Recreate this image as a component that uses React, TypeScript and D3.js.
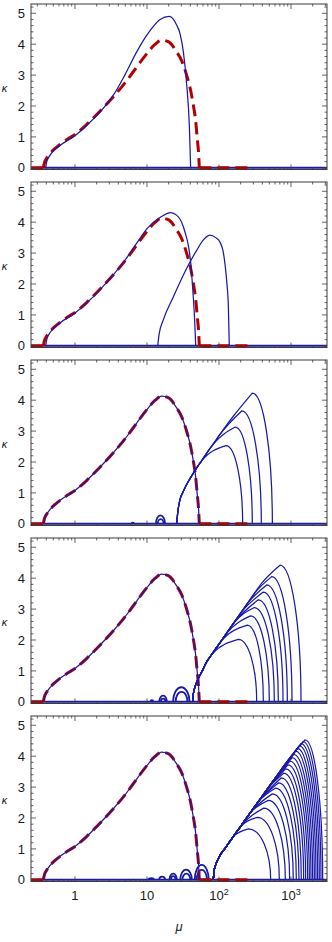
import * as d3 from "d3";

// ---- data: [mu, kappa] ----
const referenceCurve = [
  [0.363, 0], [0.378, 0.18], [0.404, 0.31], [0.449, 0.46], [0.52, 0.61], [0.619, 0.76],
  [0.78, 0.92], [1, 1.08], [1.45, 1.4], [2.22, 1.83], [3.41, 2.3], [4.92, 2.74],
  [7.2, 3.26], [10, 3.7], [12.9, 3.99], [16, 4.13], [19.8, 4.08], [25.8, 3.75],
  [30.5, 3.45], [35.5, 3.0], [40, 2.55], [44, 2.03], [47.5, 1.5], [49.9, 0.95],
  [51.8, 0.55], [53.3, 0],
];
const referenceZeroLeft = [[0.245, 0], [0.363, 0]];
const referenceZeroRight = [[53.3, 0], [255, 0]];

const blue1 = [
  [0.392, 0], [0.405, 0.2], [0.449, 0.4], [0.619, 0.72], [1, 1.04], [1.45, 1.37],
  [2.22, 1.8], [3.41, 2.35], [4.92, 3.0], [7.2, 3.75], [10, 4.3], [15.2, 4.8],
  [20.4, 4.9], [25.8, 4.62], [28.7, 4.35], [32, 3.75], [35.5, 2.73], [38.8, 1.33], [40.4, 0],
];

const blue2a = [
  [0.392, 0], [0.405, 0.2], [0.449, 0.42], [0.619, 0.74], [1, 1.06], [1.45, 1.38],
  [2.22, 1.81], [3.41, 2.3], [4.92, 2.76], [7.2, 3.32], [10, 3.79], [15.2, 4.15],
  [21.3, 4.31], [26, 4.22], [30.3, 4.0], [34, 3.65], [37.5, 3.25], [41, 2.55],
  [43, 1.9], [45.9, 0.83], [47.5, 0],
];
const blue2b = [
  [14.1, 0], [14.5, 0.25], [14.8, 0.4], [16.8, 0.83], [23.2, 1.58], [35.5, 2.5],
  [49, 3.09], [62, 3.45], [75, 3.58], [90, 3.5], [103, 3.36], [113, 3.1],
  [121, 2.66], [129, 2.0], [135, 1.26], [139, 0],
];

// branch families: shared rising envelope, then [peak mu, peak kappa, end mu]
const envelope3 = [
  [25.8, 0], [27, 0.45], [28.7, 0.78], [32, 1.05], [35.5, 1.27], [42, 1.56], [49, 1.81],
  [57, 2.03], [67.6, 2.29], [82, 2.56], [103, 2.89], [128, 3.2], [158, 3.48], [200, 3.8],
  [242, 4.03], [300, 4.3],
];
const peaks3 = [[125, 2.53, 213], [168, 3.13, 290], [207, 3.65, 387], [290, 4.23, 551]];

const envelope4 = [
  [43, 0], [44, 0.25], [46, 0.45], [51.8, 0.76], [60, 1.05], [67.6, 1.3], [80, 1.54],
  [92, 1.75], [103, 1.91], [125, 2.19], [158, 2.53], [200, 2.87], [250, 3.19], [300, 3.46],
  [380, 3.8], [460, 4.08], [560, 4.36], [650, 4.57],
];
const peaks4 = [
  [185.6, 2.02, 333.6], [247.5, 2.48, 412.9], [275.3, 2.78, 500], [309.6, 3.05, 586.8],
  [351.8, 3.3, 666.8], [412.9, 3.55, 774.3], [459.2, 3.78, 889.2], [538.9, 4.05, 1032.5],
  [703.5, 4.42, 1377],
];

const envelope5 = [
  [83.4, 0], [85, 0.25], [88, 0.42], [92, 0.55], [103, 0.79], [125, 1.06], [158, 1.4],
  [200, 1.73], [270, 2.16], [350, 2.52], [460, 2.91], [600, 3.28], [787, 3.67],
  [1000, 4.0], [1340, 4.42], [1700, 4.75],
];
const peaks5 = [
  [255.5, 1.65, 522], [340.7, 2.02, 689], [417.4, 2.32, 834], [484.4, 2.57, 958],
  [550.5, 2.78, 1076], [612.4, 2.97, 1186], [674.2, 3.14, 1291], [733.9, 3.3, 1390],
  [791, 3.45, 1499], [843.3, 3.59, 1598], [908.4, 3.72, 1703], [968.5, 3.84, 1798],
  [1032.5, 3.95, 1896], [1089, 4.06, 2000], [1161, 4.16, 2110], [1224, 4.25, 2225],
  [1305, 4.33, 2346], [1377, 4.41, 2473], [1468, 4.47, 2609], [1565, 4.53, 2754],
];

// small closed loops sitting on the axis: [mu start, mu end, height]
const loops3 = [[6.1, 6.6, 0.04], [13.3, 17.8, 0.27], [14.1, 17.0, 0.15]];
const loops4 = [
  [11.2, 12.2, 0.05], [14.8, 18.9, 0.2], [15.6, 18.0, 0.1], [23, 39, 0.47], [25, 36.5, 0.32],
];
const loops5 = [
  [10.5, 12.5, 0.05], [14.8, 17.8, 0.1], [20.5, 26, 0.2], [21.5, 25, 0.12],
  [29, 42, 0.33], [31, 40, 0.2], [46, 72, 0.48], [49, 68, 0.32],
];

const xTickLabels = [
  { v: 1, base: "1", sup: "" },
  { v: 10, base: "10", sup: "" },
  { v: 100, base: "10", sup: "2" },
  { v: 1000, base: "10", sup: "3" },
];
const yTickLabels = [0, 1, 2, 3, 4, 5];

const panels = [
  { blue: [blue1], env: null, peaks: [], loops: [] },
  { blue: [blue2a, blue2b], env: null, peaks: [], loops: [] },
  { blue: [referenceCurve], env: envelope3, peaks: peaks3, loops: loops3 },
  { blue: [referenceCurve], env: envelope4, peaks: peaks4, loops: loops4 },
  { blue: [referenceCurve], env: envelope5, peaks: peaks5, loops: loops5 },
];

const BLUE = "#1a1aa8";
const RED = "#b30000";
const FRAME = "#3c3c3c";
const FONT = "Liberation Sans, Arial, sans-serif";

const left = 31, right = 327;
const panelTop = [4, 182, 360, 538, 716];
const panelH = 165.5;

export default function App() {
  const x = d3.scaleLog().domain([0.245, 3162]).range([left, right]);
  const xt = x.ticks();

  return (
    <svg width={332} height={942} style={{ position: "absolute", left: 0, top: 0, background: "#fff" }}
      fontFamily={FONT}>
      {panels.map((p, i) => {
        const top = panelTop[i];
        const y = d3.scaleLinear().domain([-0.055, 5.3]).range([top + panelH, top]);
        const line = d3.line<number[]>().x(d => x(d[0])).y(d => y(d[1])).curve(d3.curveMonotoneX);
        const y0 = y(0);

        // rise along the shared envelope, then a quarter-ellipse down to the end point
        const branch = (pk: number[]) => {
          const [pMu, pK, eMu] = pk;
          const rise = (p.env || []).filter(d => d[1] <= pK * 0.86 && d[0] < pMu);
          const pts = [...rise, [pMu, pK]];
          const rx = x(eMu) - x(pMu), ry = y0 - y(pK);
          return line(pts) + ` A${rx},${ry} 0 0 1 ${x(eMu)},${y0}`;
        };
        const loop = (l: number[]) => {
          const x1 = x(l[0]), x2 = x(l[1]);
          return `M${x1},${y0} A${(x2 - x1) / 2},${y0 - y(l[2])} 0 0 1 ${x2},${y0}`;
        };
        const yMinor = d3.range(0, 27).map(k => k * 0.2).filter(v => v <= 5.3);
        return (
          <g key={i}>
            <defs>
              <clipPath id={`clip${i}`}>
                <rect x={left} y={top} width={right - left} height={panelH} />
              </clipPath>
            </defs>
            <g clipPath={`url(#clip${i})`}>
              <path d={line([[0.245, 0], [3162, 0]]) || ""} stroke={BLUE} strokeWidth={2} fill="none" />
              {p.loops.map((l, k) => (
                <path key={"l" + k} d={loop(l)} stroke={BLUE} strokeWidth={1.8} fill="none" />
              ))}
              {[referenceZeroLeft, referenceCurve, referenceZeroRight].map((c, k) => (
                <path key={"r" + k} d={line(c) || ""} stroke={RED} strokeWidth={3}
                  strokeDasharray="12,6" fill="none" />
              ))}
              {p.blue.map((c, k) => (
                <path key={"b" + k} d={line(c) || ""} stroke={BLUE} strokeWidth={1.25} fill="none" />
              ))}
              {p.peaks.map((pk, k) => (
                <path key={"p" + k} d={branch(pk)} stroke={BLUE} strokeWidth={1.25} fill="none" />
              ))}
            </g>
            <rect x={left} y={top} width={right - left} height={panelH} fill="none" stroke={FRAME} strokeWidth={1} />
            {xt.map((v, k) => {
              const major = Math.abs(Math.log10(v) - Math.round(Math.log10(v))) < 1e-6;
              const len = major ? 5 : 2.5;
              return (
                <g key={"xt" + k} stroke={FRAME} strokeWidth={0.8}>
                  <line x1={x(v)} x2={x(v)} y1={top + panelH} y2={top + panelH - len} />
                  <line x1={x(v)} x2={x(v)} y1={top} y2={top + len} />
                </g>
              );
            })}
            {yMinor.map((v, k) => {
              const major = Math.abs(v - Math.round(v)) < 1e-6;
              const len = major ? 5 : 2.5;
              return (
                <g key={"yt" + k} stroke={FRAME} strokeWidth={0.8}>
                  <line x1={left} x2={left + len} y1={y(v)} y2={y(v)} />
                  <line x1={right} x2={right - len} y1={y(v)} y2={y(v)} />
                </g>
              );
            })}
            {yTickLabels.map(v => (
              <text key={"yl" + v} x={left - 6} y={y(v)} dy="0.36em" textAnchor="end" fontSize={13} fill="#1a1a1a">{v}</text>
            ))}
            <text x={4.5} y={top + 88} textAnchor="middle" fontSize={11} fontStyle="italic" fill="#1a1a1a">κ</text>
            {i === panels.length - 1 &&
              xTickLabels.map(t => (
                <text key={"xl" + t.v} x={x(t.v)} y={top + panelH + 18} textAnchor="middle" fontSize={13} fill="#1a1a1a">
                  {t.base}
                  {t.sup && <tspan dy="-5" fontSize={9}>{t.sup}</tspan>}
                </text>
              ))}
          </g>
        );
      })}
      <text x={179} y={931} textAnchor="middle" fontSize={13} fontStyle="italic" fill="#1a1a1a">μ</text>
    </svg>
  );
}
